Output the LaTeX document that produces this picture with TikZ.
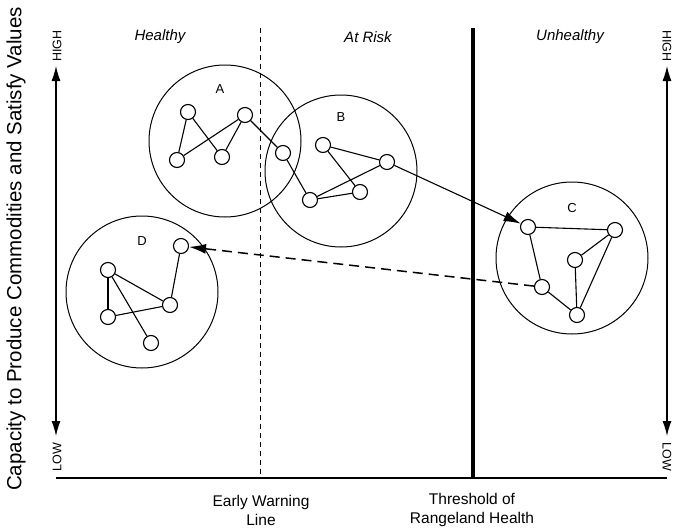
\documentclass[tikz,border=0pt]{standalone}
\usepackage{fontspec}
\setmainfont{Liberation Sans}
\usetikzlibrary{arrows.meta}
\begin{document}
\begin{tikzpicture}[x=1pt,y=-1pt,
  dot/.style={circle,draw,fill=white,line width=1.1pt,minimum size=15pt,inner sep=0pt},
  zone/.style={circle,draw,line width=1pt,minimum size=152pt,inner sep=0pt},
  edge/.style={line width=1.1pt},
  tiphead/.style={-{Latex[length=17pt,width=10pt]}},
  axis/.style={line width=1.1pt,{Latex[length=15pt,width=9pt]}-{Latex[length=15pt,width=9pt]}},
  zlabel/.style={font=\fontsize{13}{15}\selectfont},
  head/.style={font=\itshape\fontsize{15}{17}\selectfont},
  lowhigh/.style={font=\fontsize{12.5}{14}\selectfont},
  bottom/.style={font=\fontsize{15.5}{19}\selectfont,align=center}]
\useasboundingbox (0,0) rectangle (673,530);
% y axis label
\node[rotate=90,font=\fontsize{20.5}{24}\selectfont] (ylab) at (16,249) {Capacity to Produce Commodities and Satisfy Values};
% axes
\coordinate (lt) at (56,66);
\coordinate (lb) at (56,436);
\coordinate (rt) at (667,66);
\coordinate (rb) at (667,436);
\coordinate (bl) at (56,478);
\coordinate (br) at (667,478);
\draw[axis] (lb) -- (lt);
\draw[axis] (rb) -- (rt);
\draw[line width=1.5pt] (bl) -- (br);
\node[lowhigh,rotate=90] (lhigh) at (57,46) {HIGH};
\node[lowhigh,rotate=90] (llow) at (57,457) {LOW};
\node[lowhigh,rotate=-90] (rhigh) at (667,46) {HIGH};
\node[lowhigh,rotate=-90] (rlow) at (667,457) {LOW};
% zone lines
\coordinate (ewt) at (260,28);
\coordinate (ewb) at (260,478);
\coordinate (tht) at (473,28);
\coordinate (thb) at (473,478);
\draw[line width=0.9pt,dash pattern=on 5pt off 4pt] (ewt) -- (ewb);
\draw[line width=3.2pt] (tht) -- (thb);
% headers
\node[head] (healthy) at (160,37) {Healthy};
\node[head] (atrisk) at (368,37) {At Risk};
\node[head] (unhealthy) at (570,37) {Unhealthy};
\node[bottom] (ewl) at (261,510) {Early Warning\\Line};
\node[bottom] (thl) at (472,510) {Threshold of\\Rangeland Health};
% big circles
\node[zone] (zA) at (225,141) {};
\node[zone] (zB) at (341,171) {};
\node[zone] (zC) at (572,258) {};
\node[zone] (zD) at (142,292) {};
\node[zlabel] (lA) at (220,89) {A};
\node[zlabel] (lB) at (341,117) {B};
\node[zlabel] (lC) at (572,208) {C};
\node[zlabel] (lD) at (142,241) {D};
% nodes A
\node[dot] (a1) at (188,112) {};
\node[dot] (a2) at (177,160) {};
\node[dot] (a3) at (222,157) {};
\node[dot] (a4) at (245,115) {};
\node[dot] (a5) at (283,153) {};
\node[dot] (a6) at (310,200) {};
% nodes B
\node[dot] (b1) at (323,145) {};
\node[dot] (b2) at (387,162) {};
\node[dot] (b3) at (360,192) {};
% nodes C
\node[dot] (c1) at (528,227) {};
\node[dot] (c2) at (615,230) {};
\node[dot] (c3) at (575,260) {};
\node[dot] (c4) at (542,287) {};
\node[dot] (c5) at (577,315) {};
% nodes D
\node[dot] (d1) at (181,246) {};
\node[dot] (d2) at (108,270) {};
\node[dot] (d3) at (170,305) {};
\node[dot] (d4) at (108,317) {};
\node[dot] (d5) at (151,343) {};
% edges
\draw[edge] (a1) -- (a2);
\draw[edge] (a1) -- (a3);
\draw[edge] (a2) -- (a4);
\draw[edge] (a3) -- (a4);
\draw[edge] (a4) -- (a5);
\draw[edge] (a5) -- (a6);
\draw[edge] (b1) -- (b2);
\draw[edge] (b1) -- (b3);
\draw[edge] (a6) -- (b2);
\draw[edge] (a6) -- (b3);
\draw[edge] (c1) -- (c2);
\draw[edge] (c1) -- (c4);
\draw[edge] (c4) -- (c5);
\draw[edge] (c5) -- (c3);
\draw[edge] (c5) -- (c2);
\draw[edge] (c3) -- (c2);
\draw[edge] (d1) -- (d3);
\draw[edge] (d2) -- (d3);
\draw[edge] (d2) -- (d4);
\draw[edge] (d2) -- (d5);
\draw[edge] (d4) -- (d3);
% transitions
\draw[edge,tiphead] (b2) -- (c1);
\draw[line width=1.5pt,dash pattern=on 10pt off 6pt,-{Latex[length=17pt,width=10pt]}] (c4) -- (d1);
\end{tikzpicture}
\end{document}
